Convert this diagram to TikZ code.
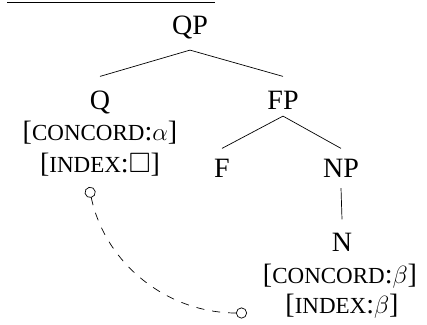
\documentclass[tikz,border=0pt]{standalone}
\usepackage{amssymb}
\usepackage{fontspec}
\setmainfont{Liberation Serif}
\usetikzlibrary{arrows.meta}

\newcommand{\fsc}[1]{{\fontsize{23}{27}\selectfont #1}}

\begin{document}
\begin{tikzpicture}[x=1pt, y=-1pt, line width=0.7pt,
  cat/.style={inner sep=0pt, text height=19pt, text depth=5pt, font=\fontsize{28}{32}\selectfont},
  feat/.style={cat},
  link/.style={dash pattern=on 8pt off 8pt, {Circle[open,length=11pt]}-{Circle[open,length=11pt]}}]
  \useasboundingbox (0,0) rectangle (427,324);
  \draw[line width=1pt] (7,2) -- (215,2);

  \node[cat] (qp) at (190,27) {QP};
  \node[cat] (q) at (100,102) {Q};
  \node[cat] (fp) at (283,102) {FP};
  \node[cat] (f) at (222,170) {F};
  \node[cat] (np) at (341,170) {NP};
  \node[cat] (n) at (342,244) {N};

  \node[feat] (qconc) at (100,133) {[\fsc{CONCORD}:$\alpha$]};
  \node[feat] (qidx) at (100,165) {[\fsc{INDEX}:$\square$]};
  \node[feat] (nconc) at (340,276) {[\fsc{CONCORD}:$\beta$]};
  \node[feat] (nidx) at (342,306) {[\fsc{INDEX}:$\beta$]};

  \draw ([yshift=-10.75pt]qp.south) -- ([yshift=13.25pt]q.north);
  \draw ([yshift=-10.75pt]qp.south) -- ([yshift=13.25pt]fp.north);
  \draw ([yshift=-1.75pt]fp.south) -- ([yshift=9.25pt]f.north);
  \draw ([yshift=-1.75pt]fp.south) -- ([yshift=9.25pt]np.north);
  \draw ([yshift=-5.75pt]np.south) -- ([yshift=12.25pt]n.north);

  \coordinate (lk) at (89,187);
  \coordinate (rk) at (247,313);
  \draw[link] (lk) to[out=-78, in=180] (rk);
\end{tikzpicture}
\end{document}
